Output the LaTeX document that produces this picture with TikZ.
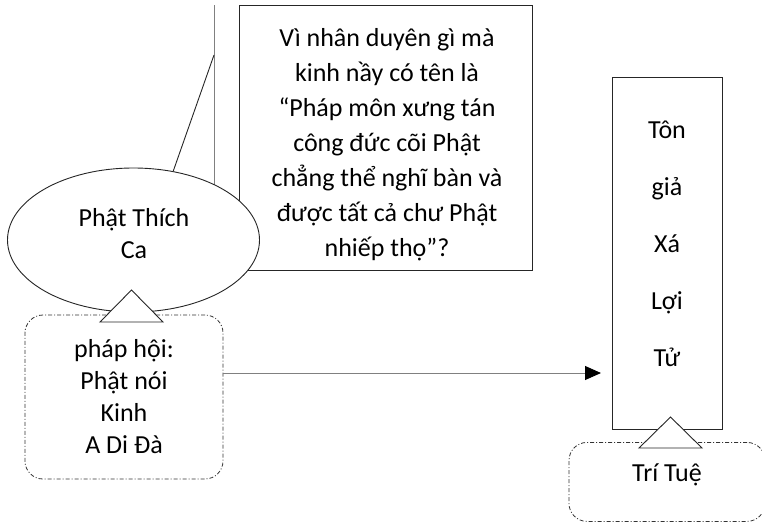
\documentclass[tikz,border=0pt]{standalone}
\usepackage{fontspec}
\setmainfont{Carlito}
\usetikzlibrary{shapes.geometric,arrows.meta}
\begin{document}
\begin{tikzpicture}[x=1pt,y=-1pt,
  every node/.style={font=\fontsize{26}{35}\selectfont},
  ln/.style={draw=black!85, line width=0.9pt},
  gln/.style={draw=black!50, line width=1pt},
  txt/.style={align=center, inner sep=0pt},
  dbox/.style={draw=black!80, line width=0.8pt, rounded corners=18pt,
    dash pattern=on 4pt off 2pt on 1pt off 2pt},
  tri/.style={draw=black!85, fill=white, line width=0.9pt}]
\useasboundingbox (0,0) rectangle (762,522);
% callout lines
\coordinate (ltop) at (214,5);
\coordinate (lmid) at (214,55);
\coordinate (lbot) at (214,240);
\draw[gln] (ltop) -- (lbot);
% question box
\node[ln, rectangle, minimum width=293pt, minimum height=265pt, inner sep=0pt]
  (q) at (385.5,137.5) {};
\node[txt] (qt) at (387,144.5) {Vì nhân duyên gì mà\\kinh nầy có tên là\\“Pháp môn xưng tán\\công đức cõi Phật\\chẳng thể nghĩ bàn và\\được tất cả chư Phật\\nhiếp thọ”?};
% ellipse
\node[ln, ellipse, fill=white, minimum width=252pt, minimum height=144pt, inner sep=0pt]
  (pt) at (133.5,240) {};
\node[txt, font=\fontsize{26}{32}\selectfont] (ptt) at (134,234) {Phật Thích\\Ca};
\draw[ln] (lmid) -- (pt.60);
% phap hoi box
\node[dbox, minimum width=198pt, minimum height=164pt, align=center,
  font=\fontsize{26}{32}\selectfont] (ph) at (124,397) {pháp hội:\\Phật nói\\Kinh\\A Di Đà};
\coordinate (t1a) at (131.5,290);
\coordinate (t1b) at (100,322);
\coordinate (t1c) at (163,322);
\draw[tri] (t1a) -- (t1b) -- (t1c) -- cycle;
% right box
\node[ln, rectangle, minimum width=110pt, minimum height=352pt, align=center,
  font=\fontsize{26}{57}\selectfont] (tz) at (667,253) {Tôn\\giả\\Xá\\Lợi\\Tử\\[-38pt]\mbox{}};
% arrow
\coordinate (ae) at (601,373);
\draw[gln, -{Triangle[length=16pt,width=14pt,fill=black,color=black]}] (ph.east |- ae) -- (ae);
% tri tue box
\node[dbox, minimum width=196pt, anchor=north, text height=30pt, text depth=31pt, inner ysep=9pt]
  (tt) at (667,442) {Trí Tuệ};
\coordinate (t2a) at (670.5,417);
\coordinate (t2b) at (639,448);
\coordinate (t2c) at (702,448);
\draw[tri] (t2a) -- (t2b) -- (t2c) -- cycle;
\end{tikzpicture}
\end{document}
